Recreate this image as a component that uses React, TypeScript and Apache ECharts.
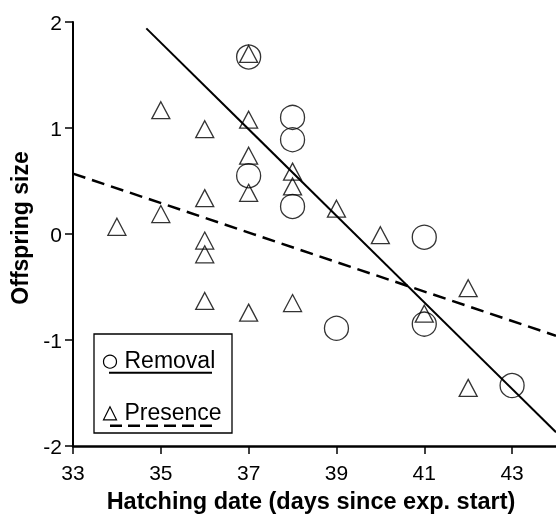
import React, { useEffect, useRef } from "react";
import * as echarts from "echarts";

const removalX = [37, 38, 38, 37, 38, 41, 39, 41, 43];
const removalY = [1.67, 1.1, 0.89, 0.55, 0.26, -0.03, -0.89, -0.85, -1.43];
const presenceX = [34, 35, 35, 36, 36, 36, 36, 36, 37, 37, 37, 37, 37, 38, 38, 38, 39, 40, 41, 42, 42];
const presenceY = [0.04, 1.14, 0.16, 0.96, 0.31, -0.09, -0.22, -0.66, 1.67, 1.05, 0.71, 0.36, -0.77, 0.56, 0.42, -0.68, 0.21, -0.04, -0.78, -0.54, -1.48];
const removalFitX = [34.67, 44];
const removalFitY = [1.94, -1.87];
const presenceFitX = [33, 44];
const presenceFitY = [0.57, -0.96];
const xTicks = [33, 35, 37, 39, 41, 43];
const legendLabels = ["Removal", "Presence"];
const xTitle = "Hatching date (days since exp. start)";
const yTitle = "Offspring size";

const FONT = "'Liberation Sans', Arial, Helvetica, sans-serif";

export default function App() {
  const ref = useRef<HTMLDivElement>(null);
  useEffect(() => {
    if (!ref.current) return;
    const chart = echarts.init(ref.current, undefined, { renderer: "svg" });
    const pair = (xs: number[], ys: number[]) => xs.map((x, i) => [x, ys[i]]);
    chart.setOption({
      animation: false,
      grid: { left: 73, right: 0, top: 22, bottom: 68, containLabel: false },
      xAxis: {
        type: "value",
        min: 33,
        max: 44,
        axisLine: { show: true, onZero: false, lineStyle: { color: "#000", width: 2.5 } },
        axisTick: { show: true, length: 8, customValues: xTicks, lineStyle: { color: "#000", width: 1.5 } },
        axisLabel: { customValues: xTicks, fontSize: 21, color: "#000", margin: 16, fontFamily: FONT },
        splitLine: { show: false },
      },
      yAxis: {
        type: "value",
        min: -2,
        max: 2,
        interval: 1,
        axisLine: { show: true, onZero: false, lineStyle: { color: "#000", width: 2 } },
        axisTick: { show: true, length: 8, lineStyle: { color: "#000", width: 1.5 } },
        axisLabel: { fontSize: 21, color: "#000", margin: 11, fontFamily: FONT },
        splitLine: { show: false },
      },
      series: [
        {
          type: "line",
          data: pair(removalFitX, removalFitY),
          symbol: "none",
          lineStyle: { color: "#000", width: 2 },
          silent: true,
        },
        {
          type: "line",
          data: pair(presenceFitX, presenceFitY),
          symbol: "none",
          lineStyle: { color: "#000", width: 2.5, type: [13, 7] },
          silent: true,
        },
        {
          type: "scatter",
          data: pair(removalX, removalY),
          symbol: "circle",
          symbolSize: 24,
          itemStyle: { color: "rgba(0,0,0,0)", borderColor: "#000", borderWidth: 1.3 },
          silent: true,
        },
        {
          type: "scatter",
          data: pair(presenceX, presenceY),
          symbol: "triangle",
          symbolSize: [18, 17],
          symbolOffset: [0, -3],
          itemStyle: { color: "rgba(0,0,0,0)", borderColor: "#000", borderWidth: 1.3 },
          silent: true,
        },
      ],
      graphic: [
        {
          type: "text",
          x: 311,
          y: 501,
          style: { text: xTitle, font: `bold 23.5px ${FONT}`, align: "center", verticalAlign: "middle", fill: "#000" },
        },
        {
          type: "text",
          x: 20,
          y: 228,
          rotation: Math.PI / 2,
          style: { text: yTitle, font: `bold 23px ${FONT}`, align: "center", verticalAlign: "middle", fill: "#000" },
        },
        {
          type: "rect",
          shape: { x: 94, y: 334, width: 138, height: 99 },
          style: { fill: "#fff", stroke: "#000", lineWidth: 1.3 },
        },
        {
          type: "circle",
          shape: { cx: 110, cy: 361.7, r: 6.5 },
          style: { fill: "none", stroke: "#000", lineWidth: 1.2 },
        },
        {
          type: "polygon",
          shape: { points: [[110, 406.8], [103.5, 419.8], [116.5, 419.8]] },
          style: { fill: "none", stroke: "#000", lineWidth: 1.2 },
        },
        {
          type: "line",
          shape: { x1: 109, y1: 372.7, x2: 212, y2: 372.7 },
          style: { stroke: "#000", lineWidth: 2 },
        },
        {
          type: "line",
          shape: { x1: 110, y1: 425.7, x2: 214, y2: 425.7 },
          style: { stroke: "#000", lineWidth: 2.5, lineDash: [12, 6] },
        },
        {
          type: "text",
          x: 124.5,
          y: 360,
          style: { text: legendLabels[0], font: `23px ${FONT}`, align: "left", verticalAlign: "middle", fill: "#000" },
        },
        {
          type: "text",
          x: 124.5,
          y: 412,
          style: { text: legendLabels[1], font: `23px ${FONT}`, align: "left", verticalAlign: "middle", fill: "#000" },
        },
      ],
    });
    return () => chart.dispose();
  }, []);
  return <div ref={ref} style={{ position: "fixed", left: 0, top: 0, width: 556, height: 514 }} />;
}
